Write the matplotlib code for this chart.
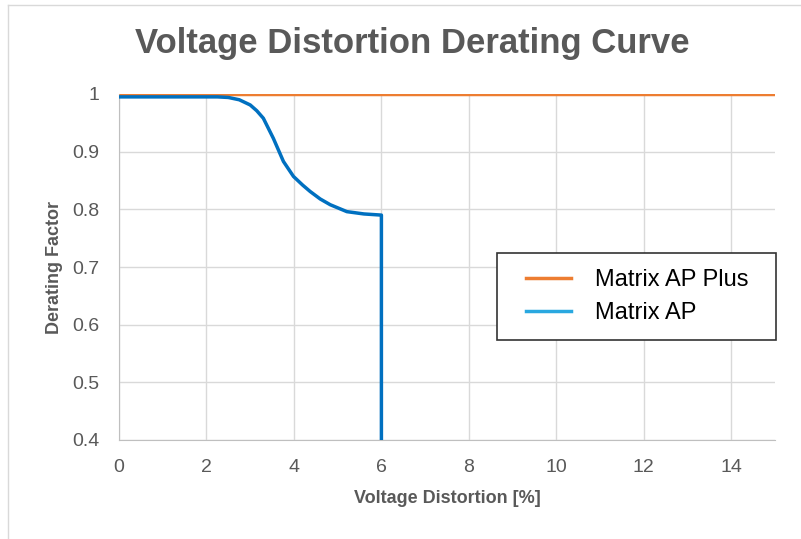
import matplotlib
matplotlib.use("Agg")
import matplotlib.pyplot as plt
from matplotlib.lines import Line2D
from matplotlib.legend_handler import HandlerLine2D

plus_x = [0, 15]
plus_y = [1.0, 1.0]
ap_x = [0, 2, 2.25, 2.5, 2.75, 3.0, 3.15, 3.3, 3.53, 3.76, 3.99, 4.2, 4.37, 4.6, 4.83, 5.21, 5.6, 6, 6]
ap_y = [0.995, 0.995, 0.995, 0.994, 0.990, 0.981, 0.971, 0.958, 0.923, 0.883, 0.857, 0.842, 0.831, 0.818,
        0.808, 0.796, 0.792, 0.790, 0.4]
xticks = [0, 2, 4, 6, 8, 10, 12, 14]
yticks = [0.4, 0.5, 0.6, 0.7, 0.8, 0.9, 1.0]
ytick_labels = ["0.4", "0.5", "0.6", "0.7", "0.8", "0.9", "1"]

FONT = "Liberation Sans"
W, H = 801, 539
fig = plt.figure(figsize=(W / 100, H / 100), dpi=100)
fig.add_artist(Line2D([8 / W, 8 / W], [0, 1 - 5 / H], color="#D9D9D9", lw=1))
fig.add_artist(Line2D([8 / W, 1], [1 - 5 / H, 1 - 5 / H], color="#D9D9D9", lw=1))

ax = fig.add_axes([119 / W, 1 - 440 / H, (775 - 119) / W, (440 - 94) / H])
ax.plot(plus_x, plus_y, color="#ED7D31", lw=2.5, solid_capstyle="butt", zorder=3)
ax.plot(ap_x, ap_y, color="#0070C0", lw=2.5, zorder=3)

ax.set_xlim(0, 15)
ax.set_ylim(0.4, 1.0)
ax.set_xticks(xticks)
ax.set_yticks(yticks)
ax.set_yticklabels(ytick_labels)
ax.grid(True, color="#D9D9D9", lw=1)
ax.set_axisbelow(True)
for s in ["top", "right"]:
    ax.spines[s].set_visible(False)
for s in ["left", "bottom"]:
    ax.spines[s].set_color("#BFBFBF")
ax.tick_params(length=0, labelsize=14, labelcolor="#595959")
ax.tick_params(axis="x", pad=14)
ax.tick_params(axis="y", pad=14)
for lab in ax.get_xticklabels() + ax.get_yticklabels():
    lab.set_family(FONT)

ax.set_xlabel("Voltage Distortion [%]", family=FONT, weight="bold", fontsize=13, color="#595959", labelpad=10)
ax.set_ylabel("Derating Factor", family=FONT, weight="bold", fontsize=13, color="#595959", labelpad=7)
fig.text(412 / W, 1 - 43 / H, "Voltage Distortion Derating Curve", family=FONT, weight="bold",
         fontsize=25, color="#595959", ha="center", va="center")

fs = 17
handles = [Line2D([], [], color="#ED7D31", lw=2.5), Line2D([], [], color="#29A8E0", lw=2.5)]
x0 = (497 - 119) / (775 - 119)
wd = (776 - 497) / (775 - 119)
y1 = 1 - (253 - 94) / (440 - 94)
leg = ax.legend(handles, ["Matrix AP Plus", "Matrix AP"], loc="upper left", mode="expand",
                bbox_to_anchor=(x0, y1 - 0.25, wd, 0.25),
                fancybox=False, framealpha=1, edgecolor="#333333",
                prop={"family": FONT, "size": fs},
                handler_map={h: HandlerLine2D(xpad=0.55) for h in handles},
                handlelength=2.45, handletextpad=1.0, borderpad=0.68, labelspacing=0.48, borderaxespad=0)
leg.get_frame().set_linewidth(1.2)

fig.savefig("out.png", dpi=100)
